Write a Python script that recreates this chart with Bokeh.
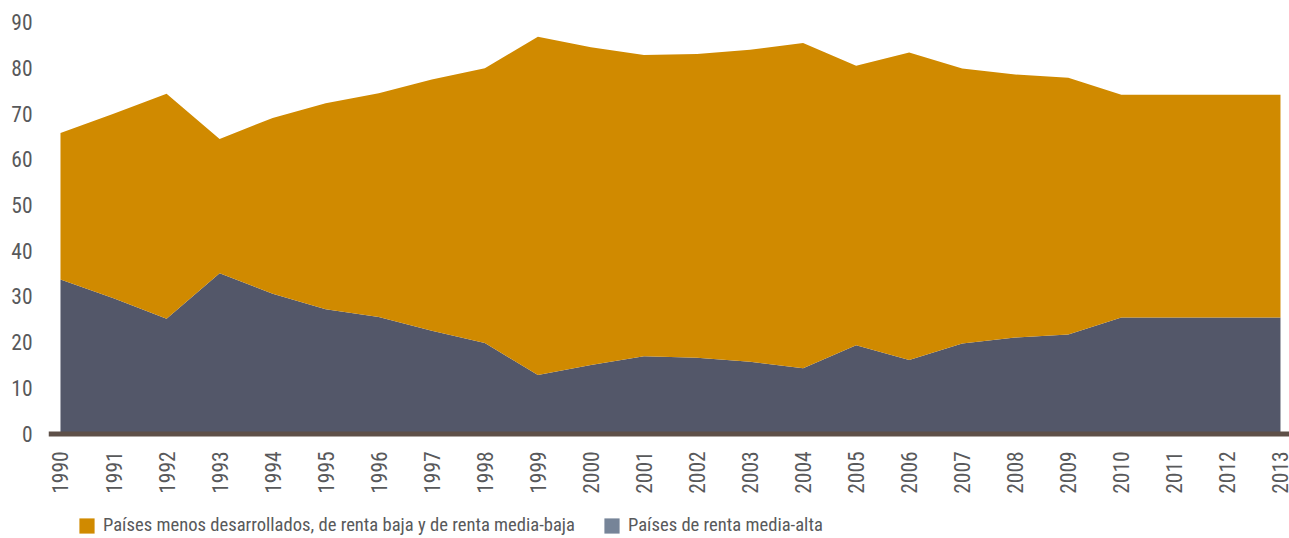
import math
from bokeh.plotting import figure
from bokeh.models import Range1d, FixedTicker, Legend, LegendItem, ColumnDataSource, Span
from bokeh.core.properties import value
from bokeh.embed import file_html
from bokeh.resources import INLINE

years = list(range(1990, 2014))
year_labels = [str(y) for y in years]
media_alta = [33.7, 29.6, 25.1, 35.1, 30.6, 27.2, 25.5, 22.5, 19.8, 12.8, 15.0, 16.9,
              16.6, 15.7, 14.3, 19.3, 16.1, 19.7, 21.0, 21.7, 25.4, 25.4, 25.4, 25.4]
menos_desarrollados = [32.1, 40.4, 49.3, 29.4, 38.5, 45.1, 49.0, 55.0, 60.2, 74.1, 69.6, 66.0,
                       66.5, 68.3, 71.2, 61.2, 67.3, 60.2, 57.6, 56.2, 48.8, 48.8, 48.8, 48.8]
y_ticks = [0, 10, 20, 30, 40, 50, 60, 70, 80, 90]
series_names = ["Países menos desarrollados, de renta baja y de renta media-baja",
                "Países de renta media-alta"]

FONT = "Roboto Condensed"
TXT = "#58595b"
ORANGE = "#d08a00"
GREY = "#535769"
NAN = float("nan")

src = ColumnDataSource(dict(year=years, alta=media_alta, menos=menos_desarrollados,
                            label=year_labels, ly=[-3.9] * len(years)))

# about 4.567 px per unit on y, 53.04 px per year on x
p = figure(width=1289, height=538, output_backend="svg", toolbar_location=None,
           x_range=Range1d(1989.774, 2013.17), y_range=Range1d(-22.99, 94.81),
           min_border_left=48, min_border_right=0, min_border_top=0, min_border_bottom=0)

p.varea_stack(["alta", "menos"], x="year", source=src, color=[GREY, ORANGE])

p.xgrid.visible = False
p.ygrid.visible = False
p.outline_line_color = None
p.xaxis.visible = False

# x axis line
p.add_layout(Span(location=-0.11, dimension="width", line_color="#5e5048", line_width=5))

# x tick labels (rotated)
p.text(x="year", y="ly", text="label", source=src, angle=math.pi / 2,
       text_align="right", text_baseline="middle", text_font=value(FONT),
       text_font_size="21.5px", text_color=TXT)

p.yaxis.ticker = FixedTicker(ticks=y_ticks)
p.yaxis.major_tick_line_color = None
p.yaxis.minor_tick_line_color = None
p.yaxis.major_tick_out = 0
p.yaxis.major_tick_in = 0
p.yaxis.axis_line_color = None
p.yaxis.major_label_standoff = 16
p.yaxis.major_label_text_font = FONT
p.yaxis.major_label_text_font_size = "21.5px"
p.yaxis.major_label_text_color = TXT

d1 = p.quad(left=[NAN], right=[NAN], top=[NAN], bottom=[NAN], fill_color=ORANGE, line_color=None)
d2 = p.quad(left=[NAN], right=[NAN], top=[NAN], bottom=[NAN], fill_color="#768498", line_color=None)

legend = Legend(items=[LegendItem(label=series_names[0], renderers=[d1]),
                       LegendItem(label=series_names[1], renderers=[d2])],
                orientation="horizontal", location=(29, 1.6),
                glyph_width=19, glyph_height=19, label_standoff=7, spacing=27,
                padding=0, margin=0, border_line_color=None, background_fill_alpha=0,
                label_text_font=FONT, label_text_font_size="18.6px",
                label_text_color=TXT, label_height=19)
p.add_layout(legend, "center")

open("out.html", "w").write(file_html(p, INLINE))
